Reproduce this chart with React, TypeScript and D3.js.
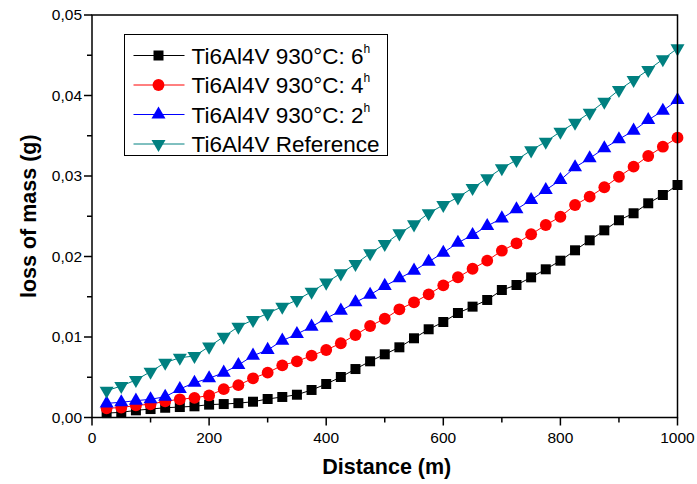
import React from "react";
import * as d3 from "d3";

// distances (m)
const distance = [25, 50, 75, 100, 125, 150, 175, 200, 225, 250, 275, 300, 325, 350, 375, 400, 425, 450, 475, 500,
  525, 550, 575, 600, 625, 650, 675, 700, 725, 750, 775, 800, 825, 850, 875, 900, 925, 950, 975, 1000];

const loss6h = [0.00055, 0.00064, 0.00089, 0.00105, 0.00121, 0.0013, 0.00139, 0.0016, 0.00167, 0.00178,
  0.00196, 0.0023, 0.00255, 0.00283, 0.00342, 0.00416, 0.00503, 0.00602, 0.00698, 0.00785,
  0.00872, 0.00984, 0.01096, 0.01186, 0.01298, 0.01377, 0.0146, 0.01584, 0.01646, 0.01741,
  0.01841, 0.01948, 0.02077, 0.02201, 0.02325, 0.0245, 0.02537, 0.02661, 0.02764, 0.02888];

const loss4h = [0.00114, 0.00124, 0.0015, 0.00165, 0.00202, 0.00226, 0.00244, 0.00274, 0.00352, 0.00402,
  0.00487, 0.00557, 0.00648, 0.00698, 0.00768, 0.00839, 0.00922, 0.01025, 0.01137, 0.01227,
  0.01344, 0.01431, 0.0153, 0.01642, 0.01742, 0.01848, 0.01948, 0.02072, 0.02164, 0.02276,
  0.02391, 0.02494, 0.0264, 0.02743, 0.0286, 0.02991, 0.03116, 0.03248, 0.03364, 0.03476];

const loss2h = [0.00176, 0.00189, 0.00209, 0.00226, 0.00258, 0.00354, 0.00432, 0.00487, 0.00557, 0.00652,
  0.00768, 0.00839, 0.00954, 0.01037, 0.01128, 0.01232, 0.01327, 0.01431, 0.01525, 0.01634,
  0.01729, 0.01824, 0.01935, 0.02047, 0.02171, 0.02267, 0.02379, 0.02474, 0.02586, 0.02702,
  0.02826, 0.0295, 0.03108, 0.0322, 0.03344, 0.03456, 0.03563, 0.03696, 0.03811, 0.03944];

const lossRef = [0.00333, 0.00391, 0.00466, 0.00569, 0.00681, 0.00743, 0.00764, 0.0088, 0.01004, 0.01128,
  0.01211, 0.01294, 0.01376, 0.0146, 0.01563, 0.01675, 0.01791, 0.01907, 0.0204, 0.02155,
  0.02288, 0.024, 0.02537, 0.0264, 0.02735, 0.02851, 0.02971, 0.03096, 0.03199, 0.03319,
  0.03426, 0.0355, 0.03662, 0.03786, 0.03923, 0.04068, 0.04193, 0.04317, 0.0445, 0.04586];

const xTicks = [0, 200, 400, 600, 800, 1000];
const xMinor = [100, 300, 500, 700, 900];
const yTicks = [0, 0.01, 0.02, 0.03, 0.04, 0.05];
const yMinor = [0.005, 0.015, 0.025, 0.035, 0.045];

const series = [
  { name: "Ti6Al4V 930°C: 6", sup: "h", values: loss6h, color: "#000000", shape: "square" },
  { name: "Ti6Al4V 930°C: 4", sup: "h", values: loss4h, color: "#ff0000", shape: "circle" },
  { name: "Ti6Al4V 930°C: 2", sup: "h", values: loss2h, color: "#0000ff", shape: "triUp" },
  { name: "Ti6Al4V Reference", sup: "", values: lossRef, color: "#008080", shape: "triDown" },
];

const W = 697, H = 484;
const margin = { left: 92, right: 19.5, top: 15, bottom: 66.5 };
const font = "'Liberation Sans', Arial, sans-serif";

const symbols: Record<string, d3.SymbolType> = {
  square: d3.symbolSquare,
  circle: d3.symbolCircle,
  triUp: d3.symbolTriangle,
  triDown: d3.symbolTriangle,
};
const sizes: Record<string, number> = { square: 100, circle: 110, triUp: 85, triDown: 85 };

function Marker({ shape, color, x, y }: { shape: string; color: string; x: number; y: number }) {
  const p = d3.symbol(symbols[shape], sizes[shape])() || "";
  const rot = shape === "triDown" ? " rotate(180)" : "";
  return <path d={p} transform={`translate(${x},${y})${rot}`} fill={color} />;
}

export default function App() {
  const x = d3.scaleLinear().domain([0, 1000]).range([margin.left, W - margin.right]);
  const y = d3.scaleLinear().domain([0, 0.05]).range([H - margin.bottom, margin.top]);
  const line = d3.line<number>().x((_, i) => x(distance[i])).y((d) => y(d));
  const x0 = x(0), x1 = x(1000), y0 = y(0), y1 = y(0.05);
  const fmt = (v: number) => v.toFixed(2).replace(".", ",");

  const legX = 124.5, legY = 34.5, legW = 263, legH = 121;

  return (
    <svg width={W} height={H} style={{ position: "absolute", left: 0, top: 0, background: "#fff" }} fontFamily={font}>
      <rect width={W} height={H} fill="#fff" />
      {series.map((s) => (
        <g key={s.name}>
          <path d={line(s.values) || ""} fill="none" stroke={s.color} strokeWidth={1} />
          {s.values.map((v, i) => (
            <Marker key={i} shape={s.shape} color={s.color} x={x(distance[i])} y={y(v)} />
          ))}
        </g>
      ))}

      {/* frame */}
      <rect x={x0} y={y1} width={x1 - x0} height={y0 - y1} fill="none" stroke="#000" strokeWidth={1.5} />

      {/* x ticks */}
      {xTicks.map((t) => (
        <g key={t}>
          <line x1={x(t)} x2={x(t)} y1={y0} y2={y0 + 8} stroke="#000" strokeWidth={1.5} />
          <text x={x(t)} y={y0 + 25} textAnchor="middle" fontSize={15.5}>{t}</text>
        </g>
      ))}
      {xMinor.map((t) => (
        <line key={t} x1={x(t)} x2={x(t)} y1={y0} y2={y0 + 5} stroke="#000" strokeWidth={1.5} />
      ))}

      {/* y ticks */}
      {yTicks.map((t) => (
        <g key={t}>
          <line x1={x0 - 8} x2={x0} y1={y(t)} y2={y(t)} stroke="#000" strokeWidth={1.5} />
          <text x={x0 - 10} y={y(t) + 5} textAnchor="end" fontSize={15.5}>{fmt(t)}</text>
        </g>
      ))}
      {yMinor.map((t) => (
        <line key={t} x1={x0 - 5} x2={x0} y1={y(t)} y2={y(t)} stroke="#000" strokeWidth={1.5} />
      ))}

      <text x={(x0 + x1) / 2 + 2} y={474} textAnchor="middle" fontSize={21.5} fontWeight="bold">Distance (m)</text>
      <text transform={`translate(36,${(y0 + y1) / 2}) rotate(-90)`} textAnchor="middle" fontSize={21.5} fontWeight="bold">
        loss of mass (g)
      </text>

      {/* legend */}
      <rect x={legX} y={legY} width={legW} height={legH} fill="#fff" stroke="#000" strokeWidth={1} />
      {series.map((s, i) => {
        const cy = legY + 21 + i * 29.5;
        return (
          <g key={s.name}>
            <line x1={legX + 9} x2={legX + 60} y1={cy} y2={cy} stroke={s.color} strokeWidth={1} />
            <Marker shape={s.shape} color={s.color} x={legX + 34} y={cy} />
            <text x={legX + 67} y={cy + 8} fontSize={22.5}>
              {s.name}
              {s.sup && <tspan fontSize={12} dy={-11}>{s.sup}</tspan>}
            </text>
          </g>
        );
      })}
    </svg>
  );
}
